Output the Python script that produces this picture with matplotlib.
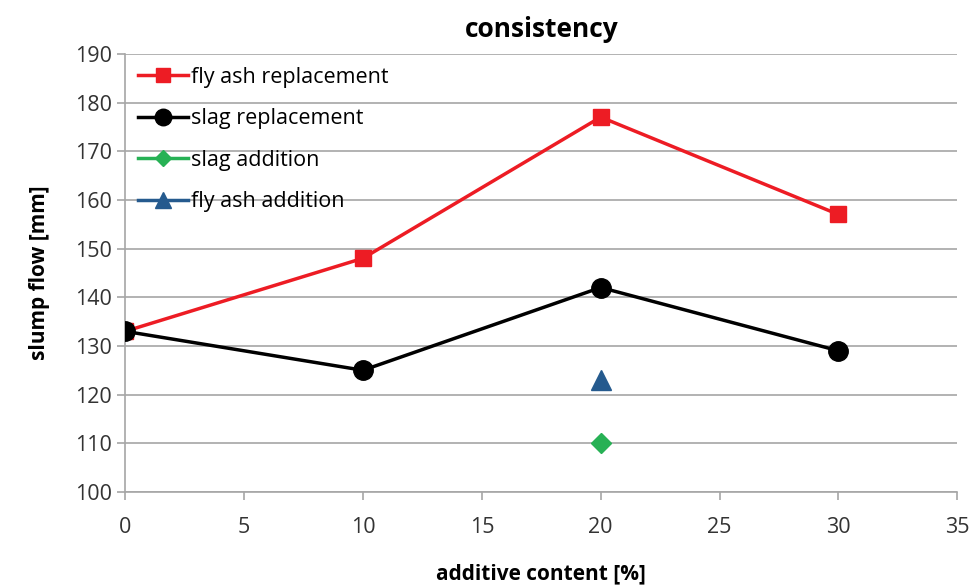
import matplotlib.pyplot as plt

# === DATA ===
x_repl = [0, 10, 20, 30]
fly_ash_repl = [133, 148, 177, 157]
slag_repl = [133, 125, 142, 129]
x_add = [20]
slag_add = [110]
fly_ash_add = [123]

plt.rcParams['font.family'] = ['Open Sans', 'DejaVu Sans']

fig = plt.figure(figsize=(9.7, 5.85), dpi=100)
ax = fig.add_axes([0.129, 0.159, 0.858, 0.749])

ax.plot(x_repl, fly_ash_repl, color='#ED1C24', lw=2.5, marker='s', ms=12,
        label='fly ash replacement', zorder=3)
ax.plot(x_repl, slag_repl, color='black', lw=2.5, marker='o', ms=14,
        label='slag replacement', zorder=4)
ax.plot(x_add, slag_add, color='#27B155', lw=2.5, marker='D', ms=10,
        label='slag addition', zorder=3)
ax.plot(x_add, fly_ash_add, color='#255A8E', lw=2.5, marker='^', ms=14,
        label='fly ash addition', zorder=3)

ax.set_xlim(0, 35)
ax.set_ylim(100, 190)
ax.set_xticks(range(0, 36, 5))
ax.set_yticks(range(100, 191, 10))
ax.grid(axis='y', color='#A6A6A6', lw=1.2)
ax.set_axisbelow(True)
for s in ['top', 'right']:
    ax.spines[s].set_visible(False)
for s in ['left', 'bottom']:
    ax.spines[s].set_color('#A6A6A6')
    ax.spines[s].set_linewidth(1.2)
ax.tick_params(colors='#A6A6A6', labelcolor='#333333', labelsize=15.5, length=6, width=1.2)
ax.tick_params(axis='x', pad=12)

ax.set_title('consistency', fontsize=19, fontweight='bold', pad=12)
ax.set_xlabel('additive content [%]', fontsize=15, fontweight='bold', labelpad=18)
ax.set_ylabel('slump flow [mm]', fontsize=15, fontweight='bold', labelpad=18)

leg = ax.legend(loc='upper left', frameon=False, fontsize=15.5, handlelength=2.3,
                labelspacing=0.95, handletextpad=0.15, borderaxespad=0.2,
                markerscale=0.85)

fig.savefig('out.png')
